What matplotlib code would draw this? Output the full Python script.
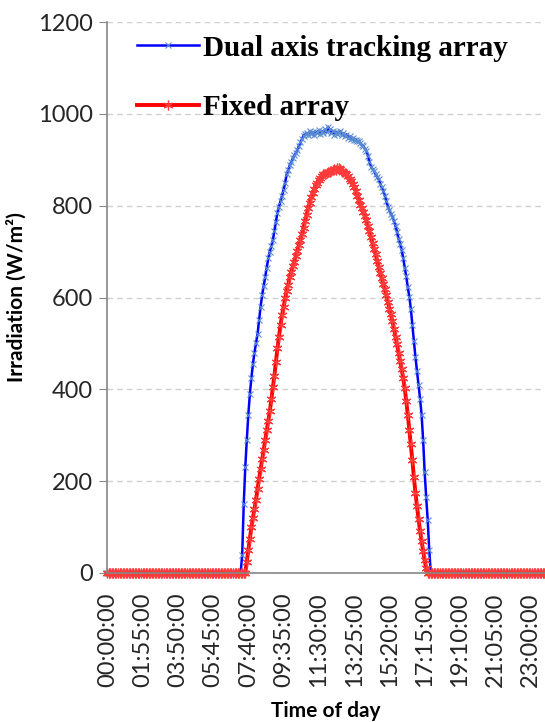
import matplotlib
matplotlib.use("Agg")
import matplotlib.pyplot as plt

# 5-minute samples over one day (288 slots), non-zero only in daylight
tracking_start = 88
tracking_day = [
    40, 150, 230, 290, 345, 390, 425, 455, 480, 500,
    520, 550, 580, 605, 625, 645, 665, 685, 700, 712,
    725, 745, 765, 785, 798, 810, 822, 835, 850, 868,
    878, 888, 895, 903, 910, 914, 922, 930, 938, 945,
    952, 956, 958, 955, 962, 957, 960, 953, 961, 958,
    964, 956, 962, 959, 966, 960, 972, 966, 958, 963,
    955, 961, 957, 958, 962, 954, 958, 951, 955, 948,
    951, 946, 948, 943, 944, 940, 940, 936, 932, 930,
    924, 920, 908, 896, 885, 880, 876, 868, 862, 858,
    848, 840, 832, 822, 810, 798, 790, 782, 776, 766,
    756, 742, 728, 716, 704, 686, 665, 646, 622, 602,
    575, 540, 505, 470, 440, 410, 380, 345, 290, 220,
    165, 115, 50,
]
fixed_start = 91
fixed_day = [
    25, 50, 75, 100, 120, 140, 160, 183, 205, 226,
    248, 268, 290, 311, 332, 352, 378, 404, 430, 460,
    490, 515, 540, 562, 580, 598, 615, 628, 644, 656,
    668, 678, 690, 702, 714, 725, 738, 752, 766, 780,
    794, 806, 818, 828, 836, 844, 850, 856, 860, 865,
    868, 870, 872, 874, 874, 876, 878, 880, 878, 882,
    881, 880, 876, 874, 872, 868, 864, 858, 853, 848,
    840, 832, 822, 812, 802, 794, 786, 777, 768, 756,
    744, 732, 718, 706, 694, 680, 667, 654, 642, 630,
    618, 605, 590, 576, 563, 548, 532, 515, 498, 480,
    462, 445, 425, 402, 375, 345, 312, 280, 245, 208,
    175, 145, 118, 92, 70, 48, 28, 10,
]
n_slots = 288
tracking = [0] * tracking_start + tracking_day
tracking += [0] * (n_slots - len(tracking))
fixed = [0] * fixed_start + fixed_day
fixed += [0] * (n_slots - len(fixed))

times = [f"{(5 * i) // 60:02d}:{(5 * i) % 60:02d}:00" for i in range(n_slots)]
tick_idx = list(range(0, n_slots, 23))

fig = plt.figure(figsize=(5.45, 7.22), dpi=100)
ax = fig.add_axes([0.196, 0.2064, 0.804, 0.7631])

ax.plot(range(n_slots), tracking, color="#0000ff", lw=1.8, marker="x", markersize=5,
        markeredgecolor="#5b8fd0", markeredgewidth=0.8, label="Dual axis tracking array")
ax.plot(range(n_slots), fixed, color="#ff0000", lw=2.8, marker=(6, 2, 0), markersize=7,
        markeredgecolor="#ff3a3a", markeredgewidth=0.9, label="Fixed array")

ax.set_ylim(0, 1200)
ax.set_yticks(range(0, 1201, 200))
ax.set_xlim(-0.3, 285.5)
ax.set_xticks(tick_idx)
ax.set_xticklabels([times[i] for i in tick_idx], rotation=90)

ax.yaxis.grid(True, linestyle=(0, (4, 3)), color="#d0d0d0", lw=1)
ax.set_axisbelow(True)
for s in ["top", "right"]:
    ax.spines[s].set_visible(False)
for s in ["left", "bottom"]:
    ax.spines[s].set_color("#868686")
    ax.spines[s].set_linewidth(1.2)

ax.tick_params(axis="y", length=6, color="#868686", labelsize=17, pad=4, labelcolor="#262626")
ax.tick_params(axis="x", length=0, labelsize=17, pad=14, labelcolor="#262626")
for lab in ax.get_xticklabels() + ax.get_yticklabels():
    lab.set_family("Lato")
for ln in ax.get_lines():
    ln.set_clip_on(False)

ax.set_ylabel("Irradiation (W/m²)", fontsize=15, fontweight="bold", family="Lato",
              labelpad=8)
ax.set_xlabel("Time of day", fontsize=15, fontweight="bold", family="Lato", labelpad=10)

ax.legend(loc="upper left", bbox_to_anchor=(0.07, 0.977), frameon=False,
          prop={"family": "Liberation Serif", "weight": "bold", "size": 21},
          handlelength=2.1, handletextpad=0.15, labelspacing=1.1, borderpad=0,
          borderaxespad=0, markerscale=1.0)

fig.savefig("out.png", dpi=100)
